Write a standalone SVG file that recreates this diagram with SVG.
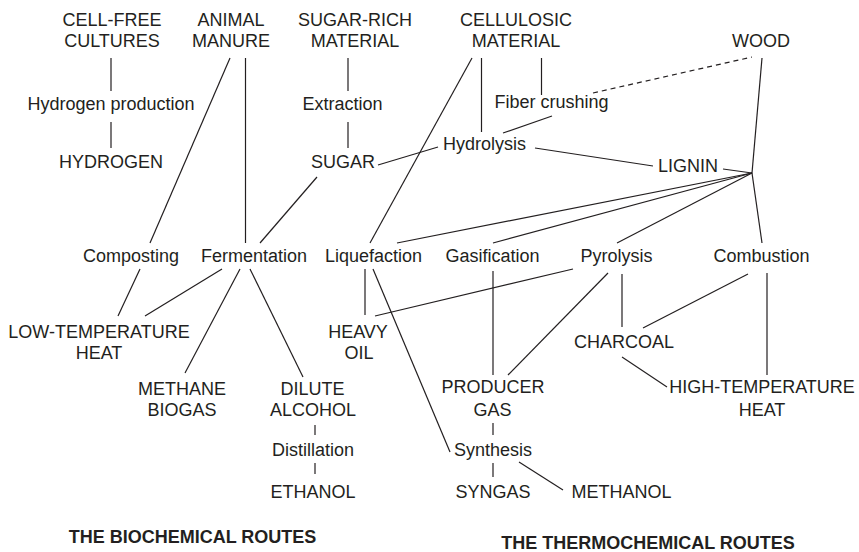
<svg xmlns="http://www.w3.org/2000/svg" width="859" height="552" viewBox="0 0 859 552">
  <style>
    text { font-family: "Liberation Sans", Arial, Helvetica, sans-serif; font-size: 18px; fill: #231f20; text-anchor: middle; }
    .title { font-weight: bold; }
    .c { stroke: #231f20; stroke-width: 1.2; fill: none; stroke-linecap: butt; }
    .dash { stroke-dasharray: 5 4; }
  </style>
  <rect width="859" height="552" fill="#ffffff"/>

  <!-- connectors -->
  <g id="connectors">
    <!-- hydrogen route -->
    <line class="c" x1="111" y1="58" x2="111" y2="91"/>
    <line class="c" x1="111" y1="122" x2="111" y2="148"/>
    <!-- animal manure -->
    <line class="c" x1="230" y1="58" x2="150" y2="243"/>
    <line class="c" x1="245.5" y1="58" x2="245.5" y2="243"/>
    <!-- sugar route -->
    <line class="c" x1="348" y1="58" x2="348" y2="91"/>
    <line class="c" x1="348" y1="122" x2="348" y2="148"/>
    <line class="c" x1="378" y1="165" x2="438" y2="147"/>
    <line class="c" x1="317" y1="177" x2="260" y2="243"/>
    <!-- cellulosic material -->
    <line class="c" x1="472" y1="58" x2="370" y2="243"/>
    <line class="c" x1="481.5" y1="58" x2="481.5" y2="132"/>
    <line class="c" x1="541.5" y1="58" x2="541.5" y2="95"/>
    <line class="c" x1="552" y1="116" x2="503" y2="133"/>
    <line class="c dash" x1="593" y1="93" x2="752" y2="57"/>
    <!-- hydrolysis / lignin / wood junction -->
    <line class="c" x1="535" y1="148" x2="653" y2="166"/>
    <line class="c" x1="723" y1="169" x2="752" y2="173"/>
    <line class="c" x1="762" y1="58" x2="752" y2="173"/>
    <line class="c" x1="752" y1="173" x2="762" y2="243"/>
    <line class="c" x1="752" y1="173" x2="397" y2="243"/>
    <line class="c" x1="752" y1="173" x2="493" y2="243"/>
    <line class="c" x1="752" y1="173" x2="617" y2="243"/>
    <!-- biochemical products -->
    <line class="c" x1="140" y1="269" x2="118" y2="316"/>
    <line class="c" x1="222" y1="269" x2="145" y2="316"/>
    <line class="c" x1="240" y1="269" x2="185" y2="373"/>
    <line class="c" x1="250" y1="269" x2="303" y2="377"/>
    <line class="c" x1="315" y1="425" x2="315" y2="435"/>
    <line class="c" x1="315" y1="463" x2="315" y2="474"/>
    <!-- thermochemical products -->
    <line class="c" x1="365" y1="269" x2="365" y2="315"/>
    <line class="c" x1="373" y1="269" x2="450" y2="452"/>
    <line class="c" x1="375" y1="316" x2="573" y2="269"/>
    <line class="c" x1="493" y1="271" x2="493" y2="375"/>
    <line class="c" x1="608" y1="273" x2="508" y2="375"/>
    <line class="c" x1="622" y1="274" x2="622" y2="327"/>
    <line class="c" x1="748" y1="274" x2="643" y2="328"/>
    <line class="c" x1="767" y1="273" x2="767" y2="375"/>
    <line class="c" x1="622" y1="357" x2="667" y2="387"/>
    <line class="c" x1="493" y1="423" x2="493" y2="435"/>
    <line class="c" x1="493" y1="463" x2="493" y2="477"/>
    <line class="c" x1="519" y1="462" x2="563" y2="490"/>
  </g>

  <!-- feedstocks -->
  <g id="cell-free-cultures"><text x="112" y="26">CELL-FREE</text><text x="112" y="46.7">CULTURES</text></g>
  <g id="animal-manure"><text x="231" y="26">ANIMAL</text><text x="231" y="46.7">MANURE</text></g>
  <g id="sugar-rich-material"><text x="355" y="26">SUGAR-RICH</text><text x="355" y="46.7">MATERIAL</text></g>
  <g id="cellulosic-material"><text x="516" y="26">CELLULOSIC</text><text x="516" y="46.7">MATERIAL</text></g>
  <g id="wood"><text x="761" y="46.7">WOOD</text></g>

  <!-- processes and intermediates -->
  <g id="hydrogen-production"><text x="111" y="110">Hydrogen production</text></g>
  <g id="hydrogen"><text x="111" y="168">HYDROGEN</text></g>
  <g id="extraction"><text x="342.5" y="110">Extraction</text></g>
  <g id="sugar"><text x="343" y="168">SUGAR</text></g>
  <g id="fiber-crushing"><text x="551.5" y="108">Fiber crushing</text></g>
  <g id="hydrolysis"><text x="484.5" y="150">Hydrolysis</text></g>
  <g id="lignin"><text x="688" y="172">LIGNIN</text></g>

  <g id="composting"><text x="131" y="262">Composting</text></g>
  <g id="fermentation"><text x="254" y="262">Fermentation</text></g>
  <g id="liquefaction"><text x="373.5" y="262">Liquefaction</text></g>
  <g id="gasification"><text x="492.5" y="262">Gasification</text></g>
  <g id="pyrolysis"><text x="616.5" y="262">Pyrolysis</text></g>
  <g id="combustion"><text x="761.5" y="262">Combustion</text></g>

  <!-- products -->
  <g id="low-temperature-heat"><text x="99" y="337.7">LOW-TEMPERATURE</text><text x="99" y="359">HEAT</text></g>
  <g id="heavy-oil"><text x="358" y="337.7">HEAVY</text><text x="359" y="359">OIL</text></g>
  <g id="charcoal"><text x="624" y="348">CHARCOAL</text></g>
  <g id="methane-biogas"><text x="182" y="395">METHANE</text><text x="182" y="416">BIOGAS</text></g>
  <g id="dilute-alcohol"><text x="312.5" y="395">DILUTE</text><text x="313" y="416">ALCOHOL</text></g>
  <g id="producer-gas"><text x="493" y="393">PRODUCER</text><text x="492.5" y="416">GAS</text></g>
  <g id="high-temperature-heat"><text x="762" y="393">HIGH-TEMPERATURE</text><text x="762" y="416">HEAT</text></g>
  <g id="distillation"><text x="313" y="456">Distillation</text></g>
  <g id="synthesis"><text x="493" y="456">Synthesis</text></g>
  <g id="ethanol"><text x="313" y="498">ETHANOL</text></g>
  <g id="syngas"><text x="493" y="498">SYNGAS</text></g>
  <g id="methanol"><text x="621.5" y="498">METHANOL</text></g>

  <!-- route captions -->
  <g id="biochemical-caption"><text class="title" x="192.5" y="543">THE BIOCHEMICAL ROUTES</text></g>
  <g id="thermochemical-caption"><text class="title" x="648" y="549">THE THERMOCHEMICAL ROUTES</text></g>
</svg>
